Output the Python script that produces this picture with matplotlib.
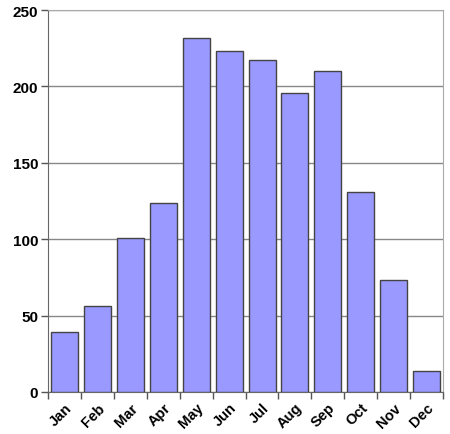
import matplotlib.pyplot as plt
import numpy as np

months = ["Jan", "Feb", "Mar", "Apr", "May", "Jun",
          "Jul", "Aug", "Sep", "Oct", "Nov", "Dec"]
values = [39, 56, 101, 124, 232, 223, 217, 196, 210, 131, 73, 14]
yticks = [0, 50, 100, 150, 200, 250]

plt.rcParams["font.family"] = ["Liberation Sans", "DejaVu Sans"]

fig = plt.figure(figsize=(4.5, 4.35), dpi=100)
ax = fig.add_axes([0.1067, 0.0966, 0.878, 0.878])

x = np.arange(len(months))
ax.bar(x, values, width=0.82, color="#9999FF", edgecolor="#444444",
       linewidth=1.0, zorder=3)

ax.set_xlim(-0.5, len(months) - 0.5)
ax.set_ylim(0, 250)
ax.set_yticks(yticks)
ax.set_yticklabels([str(v) for v in yticks], fontsize=11, fontweight="bold")
ax.yaxis.grid(True, color="#888888", linewidth=1.0, zorder=0)

# category labels centred under bars, tick marks at boundaries
ax.set_xticks(x)
ax.set_xticklabels(months, rotation=45, ha="right", rotation_mode="anchor",
                   fontsize=10.5, fontweight="bold")
ax.tick_params(axis="x", length=0, pad=6)
ax.set_xticks(np.arange(-0.5, len(months)), minor=True)
ax.tick_params(axis="x", which="minor", length=5, color="#555555", width=1)
ax.tick_params(axis="y", length=5, color="#555555", width=1, pad=2)

for side in ["top", "right"]:
    ax.spines[side].set_color("#aaaaaa")
for side in ["left", "bottom"]:
    ax.spines[side].set_color("#666666")

fig.savefig("out.png", dpi=100)
